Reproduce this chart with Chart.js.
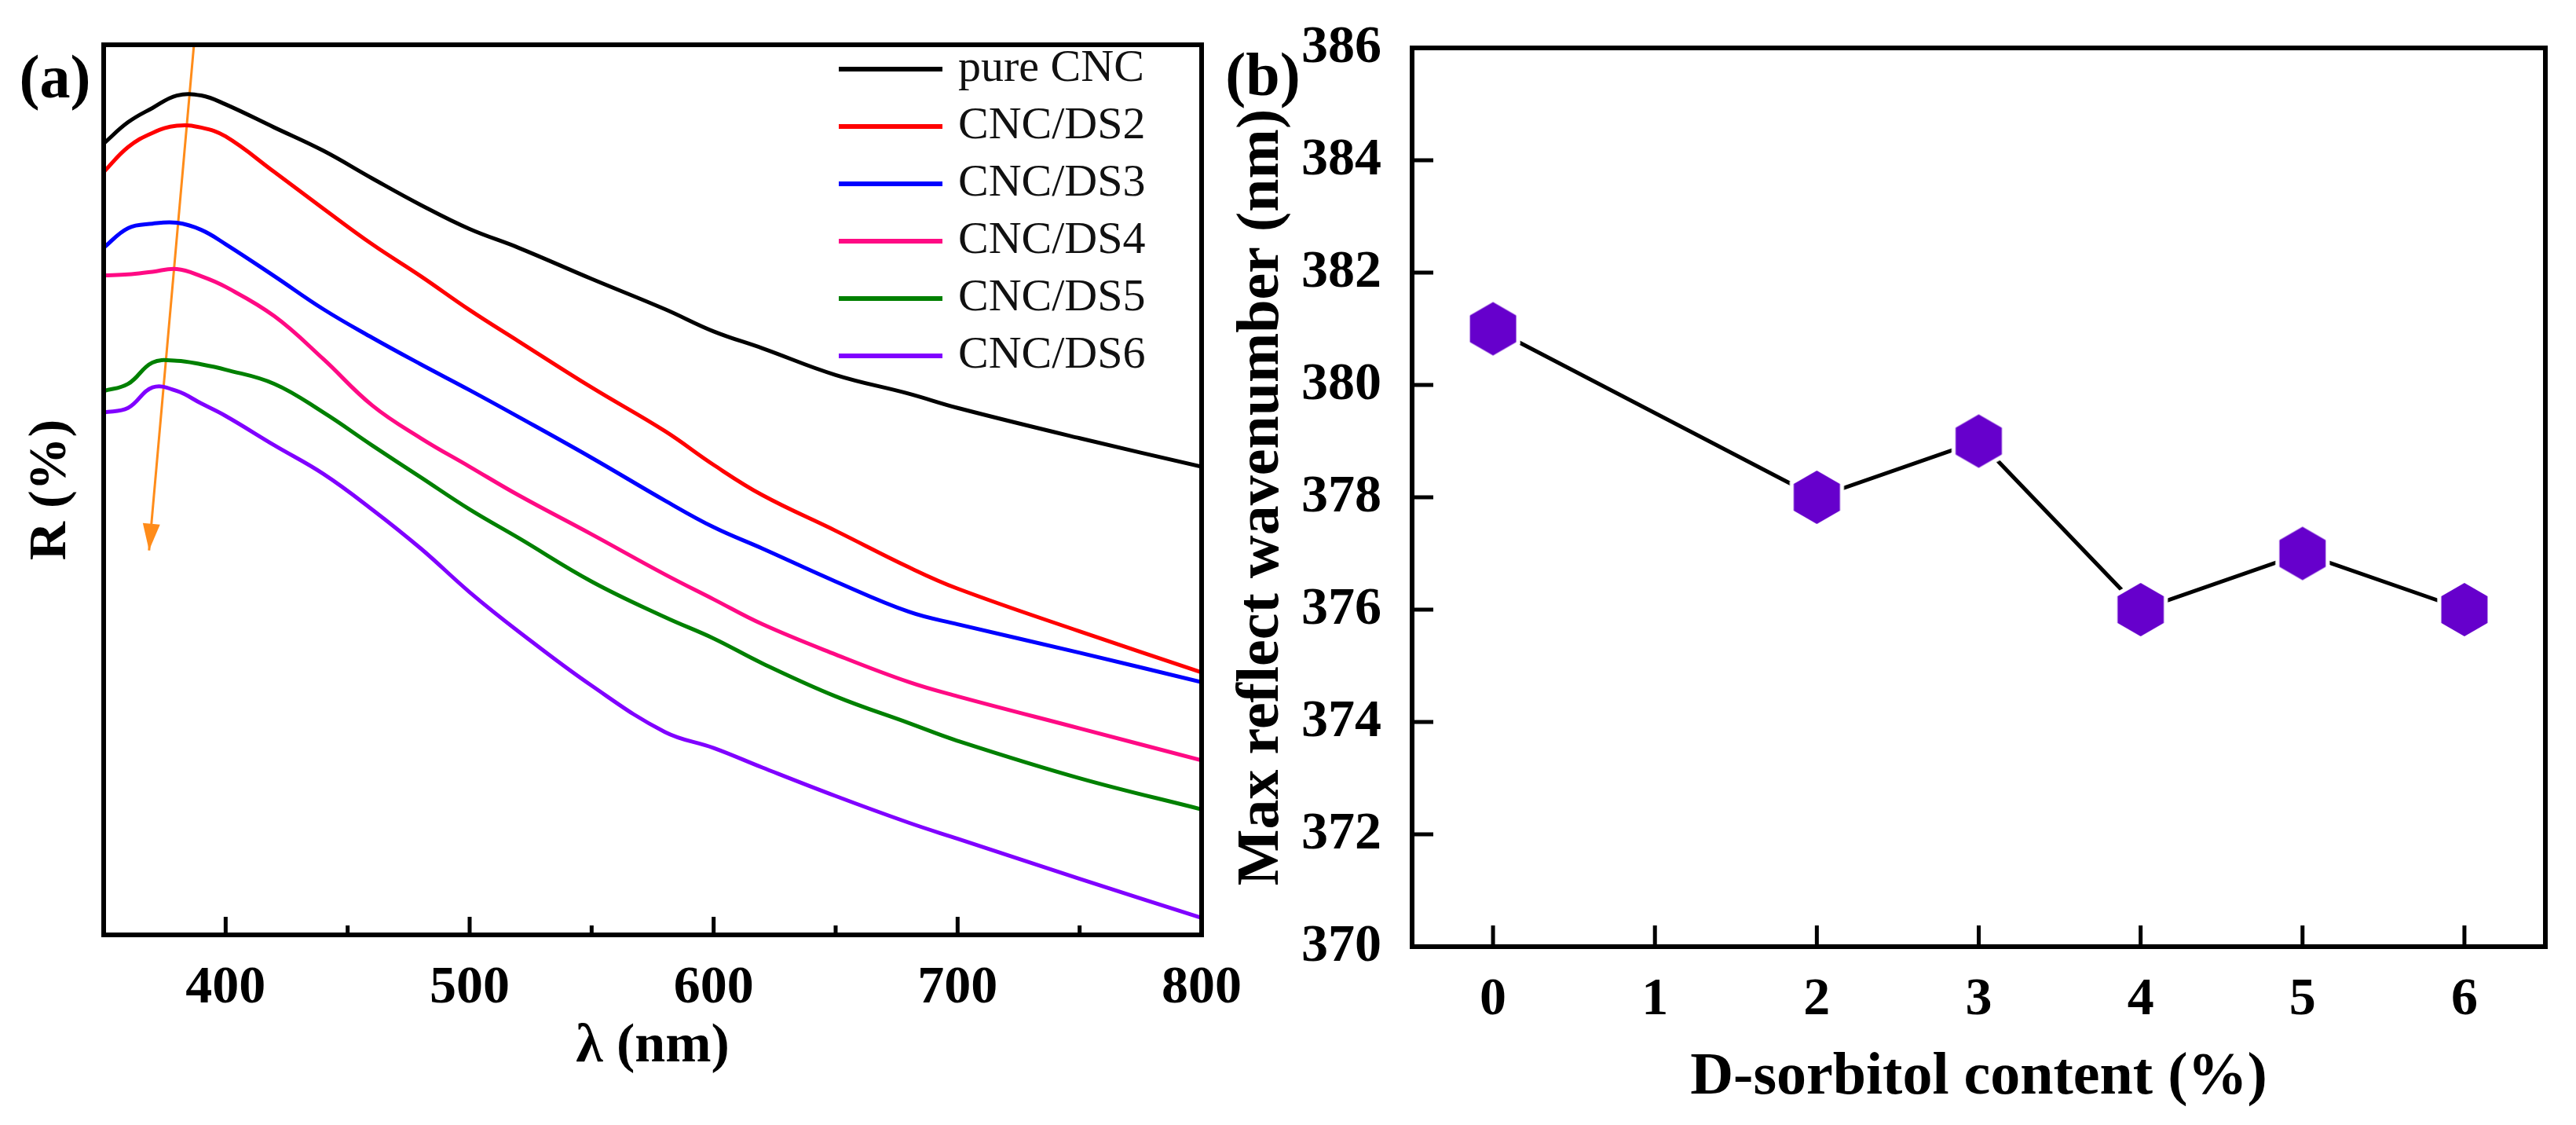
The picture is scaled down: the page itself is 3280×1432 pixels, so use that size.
<!DOCTYPE html>
<html>
<head>
<meta charset="utf-8">
<title>Reflectance spectra and max reflect wavenumber</title>
<script src="https://cdn.jsdelivr.net/npm/chart.js@4.4.1/dist/chart.umd.min.js"></script>
<style>
  html, body { margin: 0; padding: 0; background: #fff; }
  #page { position: relative; width: 3280px; height: 1432px; overflow: hidden; }
  #chart-a { position: absolute; left: 0; top: 0; }
  #chart-b { position: absolute; left: 1560px; top: 0; }
</style>
</head>
<body>
<div id="page">
  <canvas id="chart-a" width="1620" height="1432"></canvas>
  <canvas id="chart-b" width="1720" height="1432"></canvas>
</div>
<script>
// ---- panel (a): reflectance spectra ----
var wavelengths = [350, 360, 370, 380, 390, 400, 420, 440, 460, 480, 500, 520, 550, 580, 600, 620, 650, 680, 700, 750, 800];
var pureCNC = [88.9, 91.3, 92.9, 94.3, 94.3, 93.3, 90.7, 88.1, 85.0, 82.0, 79.3, 77.2, 73.7, 70.3, 67.8, 65.9, 62.9, 60.8, 59.2, 55.8, 52.6];
var cncDS2 = [85.7, 88.5, 90.1, 90.9, 90.7, 89.7, 85.7, 81.6, 77.6, 74.0, 70.2, 66.7, 61.5, 56.6, 52.8, 49.4, 45.4, 41.3, 38.9, 34.1, 29.5];
var cncDS3 = [77.2, 79.4, 79.9, 80.0, 79.2, 77.6, 74.0, 70.3, 67.1, 64.1, 61.2, 58.2, 53.6, 48.8, 45.8, 43.4, 39.7, 36.3, 34.9, 31.7, 28.4];
var cncDS4 = [74.1, 74.2, 74.5, 74.8, 74.0, 72.8, 69.5, 64.7, 59.5, 55.8, 52.6, 49.4, 45.0, 40.5, 37.7, 34.9, 31.5, 28.4, 26.8, 23.2, 19.6];
var cncDS5 = [61.1, 61.9, 64.3, 64.5, 64.1, 63.5, 61.9, 58.7, 55.0, 51.4, 47.8, 44.6, 39.7, 35.7, 33.3, 30.5, 26.8, 23.8, 21.8, 17.6, 14.1];
var cncDS6 = [58.7, 59.2, 61.5, 61.1, 59.7, 58.3, 55.0, 51.8, 47.8, 43.4, 38.5, 34.1, 28.0, 22.8, 21.0, 18.8, 15.6, 12.6, 10.8, 6.3, 1.9];
var seriesLabels = ['pure CNC', 'CNC/DS2', 'CNC/DS3', 'CNC/DS4', 'CNC/DS5', 'CNC/DS6'];
var seriesColors = ['#000000', '#ff0000', '#0000ff', '#ff0a84', '#008000', '#8000ff'];
var arrowX = [387, 368.6];
var arrowY = [100, 43.2];
var lambdaTicks = [400, 500, 600, 700, 800];
var lambdaMinorTicks = [450, 550, 650, 750];

// ---- panel (b): max reflect wavenumber ----
var sorbitolContent = [0, 2, 3, 4, 5, 6];
var maxWavenumber = [381, 378, 379, 376, 377, 376];
var contentTicks = [0, 1, 2, 3, 4, 5, 6];
var wavenumberTicks = [370, 372, 374, 376, 378, 380, 382, 384, 386];

var SERIF = "'Liberation Serif', 'Times New Roman', serif";

function toPoints(xs, ys) {
  return xs.map(function (x, i) { return { x: x, y: ys[i] }; });
}

// Closed frame plus inward tick marks, placed with the chart's scales.
var frameTicks = {
  id: 'frameTicks',
  afterDatasetsDraw: function (chart, args, opts) {
    var ctx = chart.ctx;
    var a = chart.chartArea;
    var sx = chart.scales.x;
    var sy = chart.scales.y;
    ctx.save();
    ctx.strokeStyle = '#000';
    ctx.lineWidth = opts.tickWidth;
    ctx.beginPath();
    (opts.xMajor || []).forEach(function (v) {
      var px = sx.getPixelForValue(v);
      ctx.moveTo(px, a.bottom); ctx.lineTo(px, a.bottom - opts.majorLen);
    });
    (opts.xMinor || []).forEach(function (v) {
      var px = sx.getPixelForValue(v);
      ctx.moveTo(px, a.bottom); ctx.lineTo(px, a.bottom - opts.minorLen);
    });
    (opts.yMajor || []).forEach(function (v) {
      var py = sy.getPixelForValue(v);
      ctx.moveTo(a.left, py); ctx.lineTo(a.left + opts.majorLen, py);
    });
    ctx.stroke();
    ctx.lineWidth = opts.frameWidth;
    ctx.strokeRect(a.left, a.top, a.right - a.left, a.bottom - a.top);
    ctx.restore();
  }
};

// Panel letter, e.g. "(a)"
var panelLabel = {
  id: 'panelLabel',
  afterDraw: function (chart, args, opts) {
    var ctx = chart.ctx;
    ctx.save();
    ctx.fillStyle = '#000';
    ctx.font = 'bold 78px ' + SERIF;
    ctx.textAlign = 'center';
    ctx.textBaseline = 'middle';
    ctx.fillText(opts.text, opts.x, opts.y);
    ctx.restore();
  }
};

// Legend drawn inside the plot, top right, line samples then names.
var insideLegend = {
  id: 'insideLegend',
  afterDatasetsDraw: function (chart) {
    var ctx = chart.ctx;
    var a = chart.chartArea;
    ctx.save();
    ctx.font = '58px ' + SERIF;
    ctx.textAlign = 'left';
    ctx.textBaseline = 'middle';
    seriesLabels.forEach(function (label, i) {
      var y = a.top + 31 + i * 73;
      ctx.strokeStyle = seriesColors[i];
      ctx.lineWidth = 6;
      ctx.beginPath();
      ctx.moveTo(a.right - 462, y);
      ctx.lineTo(a.right - 330, y);
      ctx.stroke();
      ctx.fillStyle = '#111';
      ctx.fillText(label, a.right - 310, y);
    });
    ctx.restore();
  }
};

// Arrow head at the end of the orange guide line.
var arrowHead = {
  id: 'arrowHead',
  afterDatasetsDraw: function (chart) {
    chart.data.datasets.forEach(function (ds, idx) {
      if (!ds.isArrow) return;
      var pts = chart.getDatasetMeta(idx).data;
      var tip = pts[pts.length - 1];
      var prev = pts[pts.length - 2];
      var ang = Math.atan2(tip.y - prev.y, tip.x - prev.x);
      var len = 34, half = 11;
      var ctx = chart.ctx;
      ctx.save();
      ctx.translate(tip.x, tip.y);
      ctx.rotate(ang);
      ctx.fillStyle = ds.borderColor;
      ctx.beginPath();
      ctx.moveTo(0, 0);
      ctx.lineTo(-len, -half);
      ctx.lineTo(-len, half);
      ctx.closePath();
      ctx.fill();
      ctx.restore();
    });
  }
};

function fixWidth(w) {
  return function (scale) { scale.width = w; scale.paddingTop = 0; scale.paddingBottom = 0; };
}
function fixHeight(h) {
  return function (scale) { scale.height = h; scale.paddingLeft = 0; scale.paddingRight = 0; };
}
function setTicks(values) {
  return function (scale) { scale.ticks = values.map(function (v) { return { value: v }; }); };
}

var tickFont = { family: SERIF, size: 68, weight: 'bold', lineHeight: 1 };

// Panel (a)
var spectraSets = [pureCNC, cncDS2, cncDS3, cncDS4, cncDS5, cncDS6].map(function (vals, i) {
  return {
    label: seriesLabels[i],
    data: toPoints(wavelengths, vals),
    borderColor: seriesColors[i],
    borderWidth: 5,
    pointRadius: 0,
    fill: false,
    tension: 0.4
  };
});
spectraSets.push({
  label: 'arrow',
  isArrow: true,
  data: toPoints(arrowX, arrowY),
  borderColor: '#ff8c1a',
  borderWidth: 3,
  pointRadius: 0,
  fill: false,
  tension: 0,
  clip: false
});

new Chart(document.getElementById('chart-a'), {
  type: 'line',
  data: { datasets: spectraSets },
  plugins: [frameTicks, insideLegend, arrowHead, panelLabel],
  options: {
    responsive: false,
    animation: false,
    devicePixelRatio: 1,
    events: [],
    layout: { padding: { left: 0, top: 57, right: 90, bottom: 0 } },
    plugins: {
      legend: { display: false },
      tooltip: { enabled: false },
      frameTicks: { xMajor: lambdaTicks, xMinor: lambdaMinorTicks, majorLen: 23, minorLen: 12, tickWidth: 5, frameWidth: 6 },
      panelLabel: { text: '(a)', x: 70, y: 104 }
    },
    scales: {
      x: {
        type: 'linear',
        min: 350,
        max: 800,
        afterBuildTicks: setTicks(lambdaTicks),
        afterFit: fixHeight(242),
        grid: { display: false },
        border: { display: false },
        ticks: { color: '#000', font: tickFont, padding: 26, maxRotation: 0 },
        title: {
          display: true,
          text: 'λ (nm)',
          color: '#000',
          font: { family: SERIF, size: 70, weight: 'bold', lineHeight: 1 },
          padding: { top: 0, bottom: 64 }
        }
      },
      y: {
        type: 'linear',
        min: 0,
        max: 100,
        afterFit: fixWidth(132),
        grid: { display: false },
        border: { display: false },
        ticks: { display: false },
        title: {
          display: true,
          text: 'R (%)',
          color: '#000',
          font: { family: SERIF, size: 68, weight: 'bold', lineHeight: 1 },
          padding: { top: 31, bottom: 0 }
        }
      }
    }
  }
});

// Hexagon marker with a thin white rim
function hexagonMarker(r, rim, color) {
  var size = Math.ceil((r + rim) * 2) + 2;
  var c = document.createElement('canvas');
  c.width = size; c.height = size;
  var g = c.getContext('2d');
  function hex(rad, fill) {
    g.beginPath();
    for (var k = 0; k < 6; k++) {
      var t = (-90 + 60 * k) * Math.PI / 180;
      var px = size / 2 + rad * Math.cos(t);
      var py = size / 2 + rad * Math.sin(t);
      if (k === 0) g.moveTo(px, py); else g.lineTo(px, py);
    }
    g.closePath();
    g.fillStyle = fill;
    g.fill();
  }
  hex(r + rim, '#ffffff');
  hex(r, color);
  return c;
}

// Panel (b)
new Chart(document.getElementById('chart-b'), {
  type: 'line',
  data: {
    datasets: [{
      label: 'Max reflect wavenumber',
      data: toPoints(sorbitolContent, maxWavenumber),
      borderColor: '#000',
      borderWidth: 5,
      pointStyle: hexagonMarker(34, 6, '#6600cc'),
      pointRadius: 34,
      fill: false,
      tension: 0,
      clip: false
    }]
  },
  plugins: [frameTicks, panelLabel],
  options: {
    responsive: false,
    animation: false,
    devicePixelRatio: 1,
    events: [],
    layout: { padding: { left: 0, top: 61, right: 37, bottom: 0 } },
    plugins: {
      legend: { display: false },
      tooltip: { enabled: false },
      frameTicks: { xMajor: contentTicks, yMajor: wavenumberTicks, majorLen: 27, minorLen: 0, tickWidth: 5, frameWidth: 6 },
      panelLabel: { text: '(b)', x: 48, y: 101 }
    },
    scales: {
      x: {
        type: 'linear',
        min: -0.5,
        max: 6.5,
        afterBuildTicks: setTicks(contentTicks),
        afterFit: fixHeight(227),
        grid: { display: false },
        border: { display: false },
        ticks: { color: '#000', font: tickFont, padding: 26, maxRotation: 0 },
        title: {
          display: true,
          text: 'D-sorbitol content (%)',
          color: '#000',
          font: { family: SERIF, size: 76, weight: 'bold', lineHeight: 1 },
          padding: { top: 0, bottom: 22 }
        }
      },
      y: {
        type: 'linear',
        min: 370,
        max: 386,
        afterBuildTicks: setTicks(wavenumberTicks),
        afterFit: fixWidth(238),
        grid: { display: false },
        border: { display: false },
        ticks: { color: '#000', font: tickFont, padding: 31 },
        title: {
          display: true,
          text: 'Max reflect wavenumber (nm)',
          color: '#000',
          font: { family: SERIF, size: 76, weight: 'bold', lineHeight: 1 },
          padding: { top: 9, bottom: 0 }
        }
      }
    }
  }
});
</script>
</body>
</html>
